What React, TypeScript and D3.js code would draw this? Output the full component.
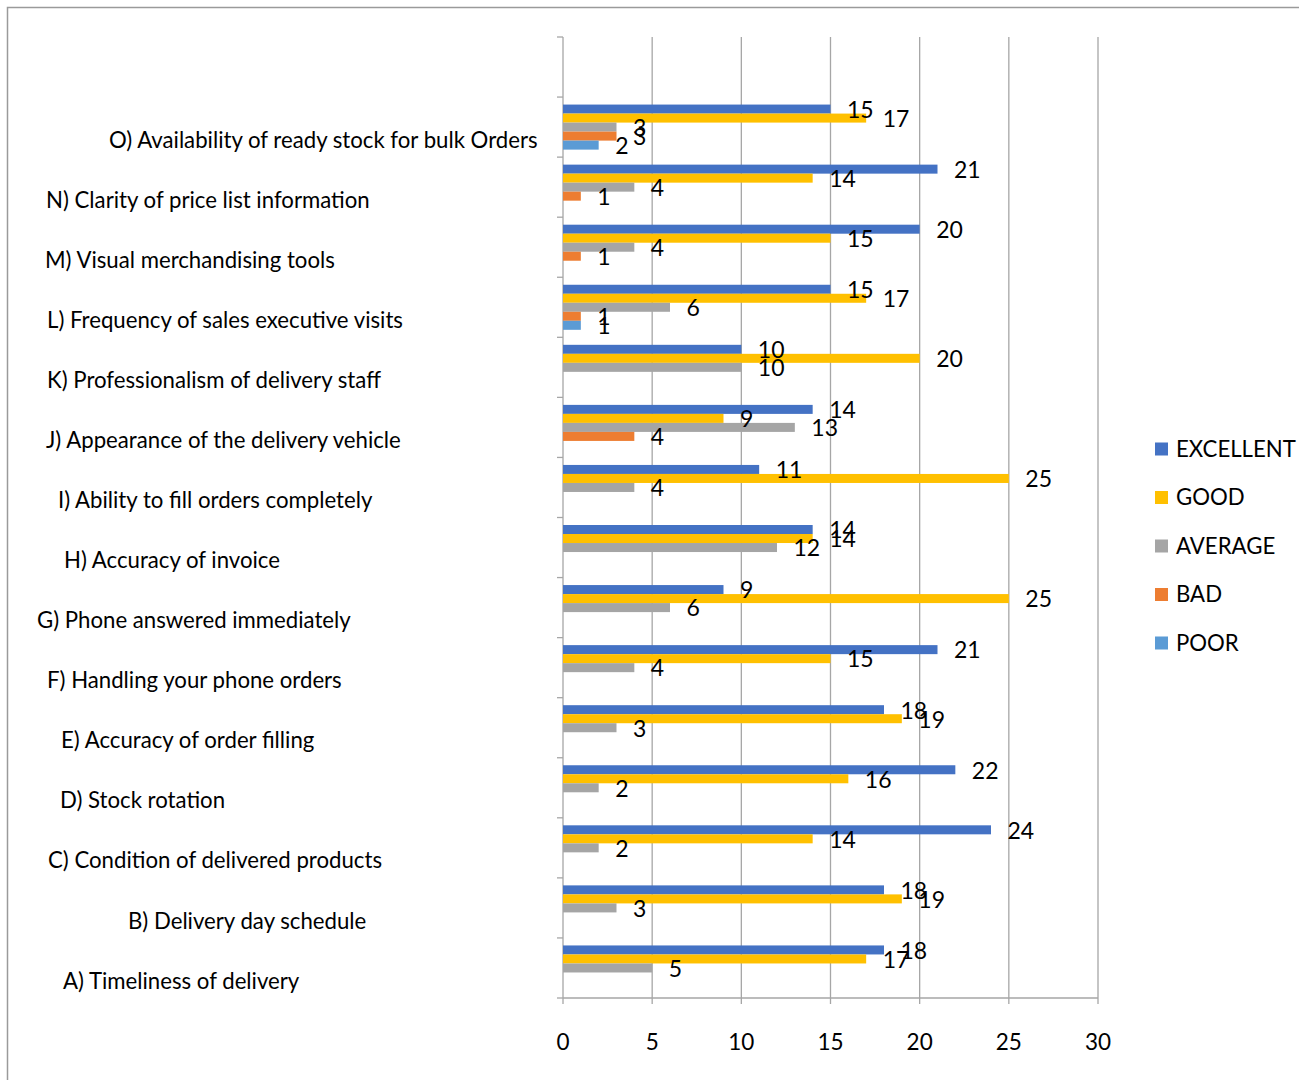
import React from "react";
import * as d3 from "d3";

const categories = [
  "",
  "O) Availability of ready stock for bulk Orders",
  "N) Clarity of price list information",
  "M) Visual merchandising tools",
  "L) Frequency of sales executive visits",
  "K) Professionalism of delivery staff",
  "J) Appearance of the delivery vehicle",
  "I) Ability to fill orders completely",
  "H) Accuracy of invoice",
  "G) Phone answered immediately",
  "F) Handling your phone orders",
  "E) Accuracy of order filling",
  "D) Stock rotation",
  "C) Condition of delivered products",
  "B) Delivery day schedule",
  "A) Timeliness of delivery",
];

const seriesNames = ["EXCELLENT", "GOOD", "AVERAGE", "BAD", "POOR"];

const excellent = [null, 15, 21, 20, 15, 10, 14, 11, 14, 9, 21, 18, 22, 24, 18, 18];
const good = [null, 17, 14, 15, 17, 20, 9, 25, 14, 25, 15, 19, 16, 14, 19, 17];
const average = [null, 3, 4, 4, 6, 10, 13, 4, 12, 6, 4, 3, 2, 2, 3, 5];
const bad = [null, 3, 1, 1, 1, null, 4, null, null, null, null, null, null, null, null, null];
const poor = [null, 2, null, null, 1, null, null, null, null, null, null, null, null, null, null, null];

const xTicks = [0, 5, 10, 15, 20, 25, 30];

// layout (not data): left x of each category label
const labelLeft = [0, 109, 46, 45, 47, 47, 46, 58, 64, 37, 47, 61, 60, 48, 128, 63];

const colors = ["#4472C4", "#FFC000", "#A5A5A5", "#ED7D31", "#5B9BD5"];

const FONT = "Lato, 'Open Sans', sans-serif";

export default function App() {
  const W = 1299;
  const H = 1080;
  const x = d3.scaleLinear().domain([0, 30]).range([563, 1098]);
  const y = d3.scaleBand<string>().domain(categories).range([37, 998]).paddingInner(0).paddingOuter(0);
  const bw = y.bandwidth();
  const ySub = d3
    .scaleBand<string>()
    .domain(seriesNames)
    .range([0, bw])
    .paddingInner(0)
    .paddingOuter(0.833);
  const allSeries = [excellent, good, average, bad, poor];
  const boundaries = categories.map((c) => y(c) as number).concat([998]);

  return (
    <svg width={W} height={H} style={{ position: "absolute", left: 0, top: 0, background: "#fff" }}>
      <rect x={7.5} y={7.5} width={W + 10} height={H + 10} fill="#fff" stroke="#9a9a9a" strokeWidth={1.5} />
      {/* gridlines */}
      {xTicks.map((t) => (
        <line key={"g" + t} x1={x(t)} x2={x(t)} y1={37} y2={1004} stroke="#a6a6a6" strokeWidth={1.3} />
      ))}
      {/* bottom axis line */}
      <line x1={x(0)} x2={x(30)} y1={998} y2={998} stroke="#a6a6a6" strokeWidth={1.3} />
      {/* left axis ticks */}
      {boundaries.map((b, i) => (
        <line key={"lt" + i} x1={557} x2={x(0)} y1={b} y2={b} stroke="#a6a6a6" strokeWidth={1.3} />
      ))}
      {/* bars */}
      {categories.map((c, ci) =>
        allSeries.map((s, si) => {
          const v = s[ci];
          if (v == null) return null;
          const by = (y(c) as number) + (ySub(seriesNames[si]) as number);
          return (
            <rect
              key={c + si}
              x={x(0)}
              y={by}
              width={x(v) - x(0)}
              height={ySub.bandwidth()}
              fill={colors[si]}
            />
          );
        })
      )}
      {/* value labels */}
      {categories.map((c, ci) =>
        allSeries.map((s, si) => {
          const v = s[ci];
          if (v == null) return null;
          const by = (y(c) as number) + (ySub(seriesNames[si]) as number) + ySub.bandwidth() / 2 + 3;
          return (
            <text
              key={"l" + c + si}
              x={x(v) + 16.5}
              y={by}
              dominantBaseline="middle"
              fontFamily={FONT}
              fontSize={23}
              fill="#000"
            >
              {v}
            </text>
          );
        })
      )}
      {/* category labels */}
      {categories.map((c, ci) =>
        c ? (
          <text
            key={"c" + ci}
            x={labelLeft[ci]}
            y={(y(c) as number) + bw / 2 + 15}
            dominantBaseline="middle"
            fontFamily={FONT}
            fontSize={22.2}
            fill="#000"
          >
            {c}
          </text>
        ) : null
      )}
      {/* x tick labels */}
      {xTicks.map((t) => (
        <text
          key={"xt" + t}
          x={x(t)}
          y={1044}
          textAnchor="middle"
          dominantBaseline="middle"
          fontFamily={FONT}
          fontSize={22.5}
          fill="#000"
        >
          {t}
        </text>
      ))}
      {/* legend */}
      {seriesNames.map((n, i) => (
        <g key={"lg" + n} transform={`translate(1155, ${449 + i * 48.5})`}>
          <rect x={0} y={-6.5} width={13} height={13} fill={colors[i]} />
          <text x={21} y={2} dominantBaseline="middle" fontFamily={FONT} fontSize={22.2} fill="#000">
            {n}
          </text>
        </g>
      ))}
    </svg>
  );
}
